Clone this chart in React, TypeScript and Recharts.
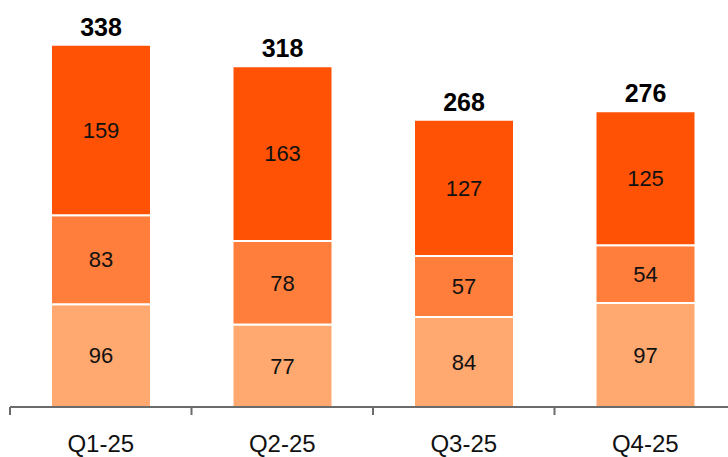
import { BarChart, Bar, XAxis, YAxis, LabelList } from "recharts";

const quarters = ["Q1-25", "Q2-25", "Q3-25", "Q4-25"];
const baseValues = [96, 77, 84, 97];
const midValues = [83, 78, 57, 54];
const topValues = [159, 163, 127, 125];
const totals = [338, 318, 268, 276];

const data = quarters.map((q, i) => ({
  quarter: q,
  base: baseValues[i],
  mid: midValues[i],
  top: topValues[i],
  total: totals[i],
}));

const FONT = "'Liberation Sans', Arial, sans-serif";
const CHART_W = 746;
const MARGIN_X = 10;
const BAND = (CHART_W - MARGIN_X * 2) / quarters.length;

// tick mark sits on the left edge of each category, label in the middle
function QuarterTick(props: any) {
  const { x, y, payload } = props;
  const left = x - BAND / 2;
  return (
    <g>
      <line x1={left} y1={y} x2={left} y2={y + 8} stroke="#6b6b6b" strokeWidth={2} />
      <text
        x={x}
        y={y + 36}
        dy="0.355em"
        textAnchor="middle"
        fontFamily={FONT}
        fontSize={24}
        fill="#111"
      >
        {payload.value}
      </text>
    </g>
  );
}

export default function App() {
  return (
    <div
      style={{
        position: "absolute",
        left: 0,
        top: 0,
        width: 728,
        height: 457,
        overflow: "hidden",
        background: "#fff",
      }}
    >
      <BarChart
        width={CHART_W}
        height={457}
        data={data}
        margin={{ top: 32, right: MARGIN_X, left: MARGIN_X, bottom: 0 }}
        barCategoryGap={0}
      >
        <XAxis
          dataKey="quarter"
          height={50}
          tickSize={0}
          tickMargin={0}
          tickLine={false}
          axisLine={{ stroke: "#6b6b6b", strokeWidth: 2 }}
          tick={<QuarterTick />}
          interval={0}
        />
        <YAxis hide domain={[0, 350]} />
        <Bar dataKey="base" stackId="s" fill="#FFA86F" stroke="#fff" strokeWidth={2} barSize={100} isAnimationActive={false}>
          <LabelList dataKey="base" position="center" fill="#111" fontSize={22} fontFamily={FONT} />
        </Bar>
        <Bar dataKey="mid" stackId="s" fill="#FF7E3C" stroke="#fff" strokeWidth={2} barSize={100} isAnimationActive={false}>
          <LabelList dataKey="mid" position="center" fill="#111" fontSize={22} fontFamily={FONT} />
        </Bar>
        <Bar dataKey="top" stackId="s" fill="#FF5205" stroke="#fff" strokeWidth={2} barSize={100} isAnimationActive={false}>
          <LabelList dataKey="top" position="center" fill="#111" fontSize={22} fontFamily={FONT} />
          <LabelList
            dataKey="total"
            position="top"
            offset={9}
            fill="#000"
            fontSize={25}
            fontWeight="bold"
            fontFamily={FONT}
          />
        </Bar>
      </BarChart>
    </div>
  );
}
